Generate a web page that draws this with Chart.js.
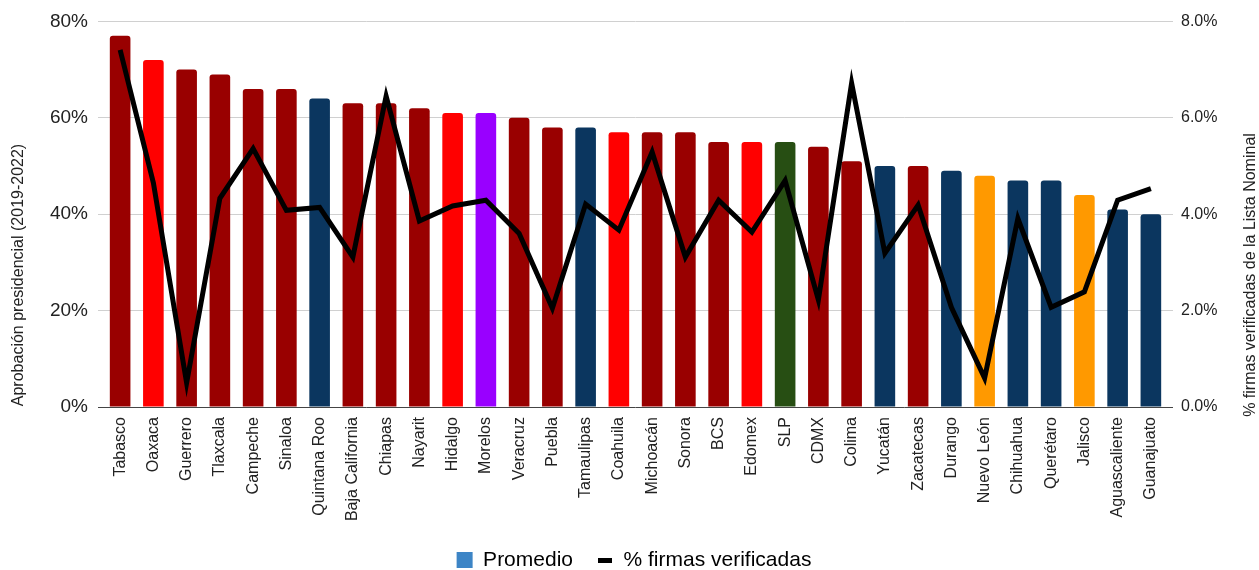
<!DOCTYPE html>
<html>
<head>
<meta charset="utf-8">
<script src="https://cdn.jsdelivr.net/npm/chart.js@4"></script>
<style>
  html, body { margin: 0; padding: 0; background: #fff; }
  #wrap { width: 1259px; height: 570px; }
</style>
</head>
<body>
<div id="wrap"><canvas id="c" width="1259" height="570"></canvas></div>
<script>
// ===== 데이터 =====
var ESTADOS = ["Tabasco", "Oaxaca", "Guerrero", "Tlaxcala", "Campeche", "Sinaloa", "Quintana Roo", "Baja California",
  "Chiapas", "Nayarit", "Hidalgo", "Morelos", "Veracruz", "Puebla", "Tamaulipas", "Coahuila", "Michoacán", "Sonora",
  "BCS", "Edomex", "SLP", "CDMX", "Colima", "Yucatán", "Zacatecas", "Durango", "Nuevo León", "Chihuahua",
  "Querétaro", "Jalisco", "Aguascaliente", "Guanajuato"];
var APROBACION = [77, 72, 70, 69, 66, 66, 64, 63, 63, 62, 61, 61, 60, 58, 58, 57, 57, 57, 55, 55, 55, 54, 51, 50, 50,
  49, 48, 47, 47, 44, 41, 40];
var FIRMAS = [7.41, 4.65, 0.5, 4.33, 5.36, 4.08, 4.14, 3.11, 6.45, 3.86, 4.17, 4.29, 3.6, 2.05, 4.21, 3.67, 5.29, 3.11,
  4.29, 3.63, 4.7, 2.22, 6.72, 3.19, 4.19, 2.07, 0.6, 3.91, 2.07, 2.39, 4.29, 4.53];
// partido gobernante por estado
var PARTIDO = ["M", "R", "M", "M", "M", "M", "P", "M", "M", "M", "R", "V", "M", "M", "P", "R", "M", "M", "M", "R",
  "G", "M", "M", "P", "M", "P", "N", "P", "P", "N", "P", "P"];
var LEFT_TICKS = [0, 20, 40, 60, 80];
var RIGHT_TICKS = [0, 2, 4, 6, 8];

var COLORES = { M: "#990000", R: "#FF0000", P: "#0B365F", V: "#9900FF", G: "#274E13", N: "#FF9900" };
var FONT = "'Liberation Sans', Arial, sans-serif";
var TXT = "#222";

// marca corta de la línea en la leyenda
var dash = document.createElement("canvas");
dash.width = 14; dash.height = 5;
(function () { var g = dash.getContext("2d"); g.fillStyle = "#000"; g.fillRect(0, 0, 14, 5); })();

// títulos de los ejes, centrados sobre toda la altura del gráfico (sin la leyenda)
var axisTitles = {
  id: "axisTitles",
  afterDraw: function (chart) {
    var ctx = chart.ctx;
    var cy = 275;
    ctx.save();
    ctx.fillStyle = TXT;
    ctx.font = "16px " + FONT;
    ctx.textAlign = "center";
    ctx.textBaseline = "middle";
    [[19, "Aprobación presidencial (2019-2022)"], [1251, "% firmas verificadas de la Lista Nominal"]].forEach(function (t) {
      ctx.save();
      ctx.translate(t[0], cy);
      ctx.rotate(-Math.PI / 2);
      ctx.fillText(t[1], 0, 0);
      ctx.restore();
    });
    ctx.restore();
  }
};

// las categorías quedan un poco hacia dentro de las líneas de la cuadrícula
var insetX = {
  id: "insetX",
  afterLayout: function (chart) {
    var s = chart.scales.x;
    s.left += 5.5;
    s.right -= 5.5;
    s.width = s.right - s.left;
    s.configure();
  }
};

new Chart(document.getElementById("c"), {
  data: {
    labels: ESTADOS,
    datasets: [
      {
        type: "line", label: "% firmas verificadas", data: FIRMAS, yAxisID: "y2",
        borderColor: "#000", backgroundColor: "#000", borderWidth: 5, pointRadius: 0, tension: 0,
        borderJoinStyle: "miter", order: 0
      },
      {
        type: "bar", label: "Promedio", data: APROBACION, yAxisID: "y",
        backgroundColor: PARTIDO.map(function (p) { return COLORES[p]; }),
        barPercentage: 0.62, categoryPercentage: 1, borderRadius: { topLeft: 3, topRight: 3 },
        borderSkipped: "bottom", order: 1
      }
    ]
  },
  plugins: [axisTitles, insetX],
  options: {
    responsive: false, animation: false,
    layout: { padding: { left: 9, right: 0, top: 21, bottom: -10.5 } },
    scales: {
      x: {
        afterFit: function (s) { s.height = 118.5; },
        grid: { display: false, drawTicks: false },
        border: { display: false },
        ticks: { maxRotation: 90, minRotation: 90, autoSkip: false, color: TXT, padding: 10, font: { family: FONT, size: 16 } }
      },
      y: {
        position: "left", min: 0, max: 80,
        afterFit: function (s) { s.width = 89; },
        afterBuildTicks: function (s) { s.ticks = LEFT_TICKS.map(function (v) { return { value: v }; }); },
        grid: {
          drawTicks: false,
          color: function (c) { return c.tick && c.tick.value === 0 ? "#444" : "#D0D0D0"; }
        },
        border: { display: false },
        ticks: { color: TXT, padding: 10, font: { family: FONT, size: 19 }, callback: function (v) { return v + "%"; } }
      },
      y2: {
        position: "right", min: 0, max: 8,
        afterFit: function (s) { s.width = 86; },
        afterBuildTicks: function (s) { s.ticks = RIGHT_TICKS.map(function (v) { return { value: v }; }); },
        grid: { display: false, drawTicks: false },
        border: { display: false },
        ticks: { color: TXT, padding: 8, font: { family: FONT, size: 16 }, callback: function (v) { return v.toFixed(1) + "%"; } }
      }
    },
    plugins: {
      tooltip: { enabled: false },
      legend: {
        position: "bottom",
        labels: {
          color: TXT, font: { family: FONT, size: 21 }, usePointStyle: true, boxWidth: 16, boxHeight: 16, padding: 24,
          generateLabels: function (chart) {
            return [
              { text: "Promedio", fillStyle: "#3D85C6", strokeStyle: "#3D85C6", lineWidth: 0, pointStyle: "rect", datasetIndex: 1 },
              { text: "% firmas verificadas", fillStyle: "#000", strokeStyle: "#000", lineWidth: 0, pointStyle: dash, datasetIndex: 0 }
            ];
          }
        }
      }
    }
  }
});
</script>
</body>
</html>
